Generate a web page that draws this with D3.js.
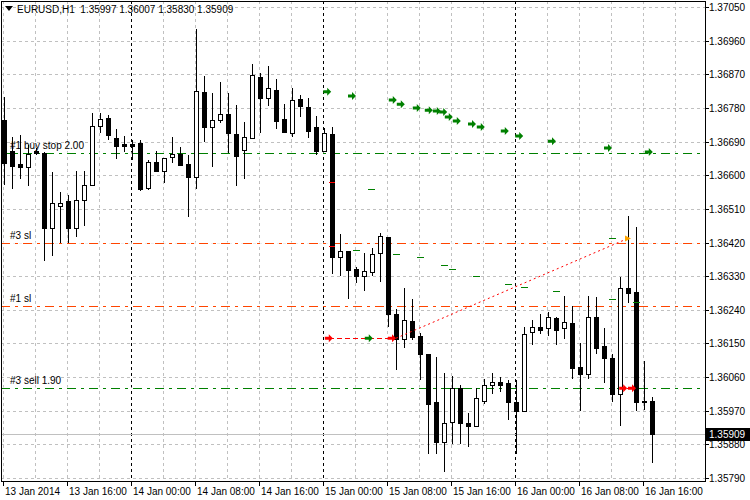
<!DOCTYPE html>
<html><head><meta charset="utf-8">
<script src="https://cdn.jsdelivr.net/npm/d3@7"></script>
<style>body{margin:0;background:#fff}svg{display:block}text{font-family:"Liberation Sans",Arial,sans-serif}line{shape-rendering:crispEdges}</style>
</head><body><svg id="c" width="750" height="500"></svg>
<script>
// prices x 1e5
const opens=[136747,136664,136630,136622,136664,136659,136458,136517,136530,136458,136533,136573,136731,136753,136699,136683,136683,136686,136565,136635,136611,136648,136656,136630,136595,136823,136729,136748,136764,136710,136667,136699,136863,136807,136828,136750,136713,136804,136782,136729,136664,136710,136380,136397,136348,136330,136340,136391,136434,136228,136161,136209,136169,136123,135992,135885,135941,136032,135936,135930,135997,136040,136048,136043,135992,135968,136180,136193,136190,136217,136190,136204,136086,136067,136222,136142,136110,136016,136297,136287,135997,135997];
const highs=[136809,136702,136707,136680,136672,136662,136608,136555,136547,136611,136611,136766,136766,136761,136723,136705,136694,136694,136640,136664,136646,136702,136675,136654,136991,136865,136820,136849,136820,136788,136742,136898,136873,136892,136857,136790,136833,136815,136807,136758,136726,136729,136442,136397,136354,136391,136405,136445,136434,136241,136297,136268,136177,136123,136113,136070,136064,136038,135965,136032,136056,136070,136059,136051,136051,136193,136214,136228,136233,136222,136276,136249,136150,136276,136273,136190,136123,136327,136490,136461,136102,136007];
const lows=[136573,136563,136589,136571,136654,136370,136383,136418,136418,136434,136463,136573,136713,136694,136643,136662,136640,136557,136560,136608,136579,136632,136627,136488,136563,136689,136622,136740,136659,136571,136589,136697,136713,136785,136723,136713,136702,136756,136699,136654,136664,136335,136330,136268,136311,136289,136330,136313,136193,136080,136139,136158,136051,135853,135855,135807,135882,135882,135874,135930,135987,136016,136021,135946,135853,135968,136145,136174,136171,136145,136161,136056,135968,136056,136123,136043,135992,135930,136257,135968,135973,135830];
const closes=[136632,136624,136622,136656,136659,136458,136525,136525,136458,136533,136573,136731,136750,136707,136678,136678,136678,136563,136635,136611,136646,136656,136627,136595,136825,136729,136748,136764,136713,136651,136702,136868,136807,136833,136745,136715,136801,136785,136718,136664,136713,136380,136397,136346,136330,136343,136388,136437,136230,136161,136212,136166,136123,135987,135885,135938,136032,135936,135928,136003,136040,136048,136040,135992,135968,136174,136193,136185,136220,136185,136206,136083,136067,136222,136139,136110,136016,136297,136284,135992,135995,135909];
const priceTicks=[1.37050,1.36960,1.36870,1.36780,1.36690,1.36600,1.36510,1.36420,1.36330,1.36240,1.36150,1.36060,1.35970,1.35880,1.35790];
const timeLabels=["13 Jan 2014","13 Jan 16:00","14 Jan 00:00","14 Jan 08:00","14 Jan 16:00","15 Jan 00:00","15 Jan 08:00","15 Jan 16:00","16 Jan 00:00","16 Jan 08:00","16 Jan 16:00"];
const daySeparators=[16,40,64];
const orderNames=["#1 buy stop 2.00","#3 sl","#1 sl","#3 sell 1.90"];
const orderPrices=[1.36660,1.36420,1.36250,1.36030];
const orderColors=["#008000","#ff4500","#ff4500","#008000"];
const stopBars=[40.4,43.5,48.6,49.6,51.6,53.1,54.1,54.9,55.6,56.6,58.5,59.6,62.6,64.4,68.5,75.5,80.6];
const stopPrices=[136823,136812,136801,136790,136780,136774,136772,136769,136756,136745,136737,136729,136718,136705,136691,136673,136662];
const dashBars=[45.9,44,49,52,55,56,59,63,65,69,76,76,79];
const dashPrices=[136563,136399,136388,136380,136359,136348,136330,136308,136300,136289,136268,136431,136260];
const header="EURUSD,H1  1.35997 1.36007 1.35830 1.35909";
const lastPrice=1.35909;

const svg=d3.select("#c");
const P=v=>v/1e5;
const x=d3.scaleLinear().domain([0,81]).range([4,652]);
const y=d3.scaleLinear().domain([1.35790,1.37050]).range([478,7]);
const L=1,R=705,T=1,B=481;
const Y=p=>Math.round(y(p));
const arrow="M-4,-1.5H0V-4L4,0L0,4V1.5H-4Z";

const g=svg.append("g");
priceTicks.forEach(p=>g.append("line").attr("x1",L).attr("x2",R).attr("y1",Y(p)).attr("y2",Y(p)).attr("stroke","#c0c0c0").attr("stroke-dasharray","3,3"));
for(let k=0;k<=84;k+=4){ if(daySeparators.includes(k))continue; const xx=Math.round(x(k)-1); if(xx>R)break;
 g.append("line").attr("x1",xx).attr("x2",xx).attr("y1",T).attr("y2",B).attr("stroke","#c0c0c0").attr("stroke-dasharray","3,3");}
daySeparators.forEach(k=>{const xx=Math.round(x(k)-1);g.append("line").attr("x1",xx).attr("x2",xx).attr("y1",T).attr("y2",B).attr("stroke","#000").attr("stroke-dasharray","3,3");});

g.append("line").attr("x1",L).attr("x2",R).attr("y1",Y(lastPrice)).attr("y2",Y(lastPrice)).attr("stroke","#c0c0c0");

const og=svg.append("g");
orderPrices.forEach((p,i)=>{const yy=Y(p);
 og.append("rect").attr("x",L).attr("y",yy-0.5).attr("width",R-L).attr("height",1.2).attr("fill","#fff");
 og.append("path").attr("d",`M${L},${yy+0.5}H${R}`).attr("fill","none").attr("stroke",orderColors[i]).attr("stroke-width",1.2).attr("stroke-dasharray","9,5,3,5");
 og.append("text").attr("x",10).attr("y",yy-4).attr("font-size",10).attr("fill","#000").text(orderNames[i]);});

const cg=svg.append("g");
opens.forEach((o,k)=>{const c=closes[k];const h=Math.max(highs[k],o,c),l=Math.min(lows[k],o,c);
 const xx=Math.round(x(k))+.5;
 cg.append("line").attr("x1",xx).attr("x2",xx).attr("y1",y(P(h))).attr("y2",y(P(l))).attr("stroke","#000");
 const top=Math.round(y(P(Math.max(o,c))))+.5,bot=Math.round(y(P(Math.min(o,c))))+.5;
 const up=c>=o;
 cg.append("rect").attr("x",xx-2).attr("y",top).attr("width",4).attr("height",Math.max(bot-top,1)).attr("fill",up?"#fff":"#000").attr("stroke","#000");
});

[136581,136410].forEach(p=>cg.append("line").attr("x1",x(41)-3).attr("x2",x(41)+3).attr("y1",Y(P(p))).attr("y2",Y(P(p))).attr("stroke","#ff0000"));

stopBars.forEach((b,i)=>svg.append("path").attr("d",arrow).attr("transform",`translate(${x(b)},${y(P(stopPrices[i]))})`).attr("fill","#008000"));
dashBars.forEach((b,i)=>svg.append("line").attr("x1",x(b)-3.5).attr("x2",x(b)+3.5).attr("y1",Y(P(dashPrices[i]))).attr("y2",Y(P(dashPrices[i]))).attr("stroke","#008000"));

const tp=1.36164;
svg.append("line").attr("x1",x(40.6)).attr("x2",x(48.5)).attr("y1",Y(tp)).attr("y2",Y(tp)).attr("stroke","#ff0000").attr("stroke-dasharray","5,3");
svg.append("path").attr("d",`M${x(49)},${y(tp)}L${x(78)},${y(1.36431)}`).attr("stroke","#ff0000").attr("stroke-dasharray","2,3").attr("fill","none");
svg.append("line").attr("x1",x(77.4)).attr("x2",x(78.5)).attr("y1",Y(1.36030)).attr("y2",Y(1.36030)).attr("stroke","#ff0000").attr("stroke-dasharray","2,2");
[[40.6,tp,"#ff0000"],[45.6,tp,"#008000"],[48.5,tp,"#ff0000"],[77.4,1.36030,"#ff0000"],[78.5,1.36030,"#ff0000"]].forEach(d=>svg.append("path").attr("d",arrow).attr("transform",`translate(${x(d[0])},${y(d[1])})`).attr("fill",d[2]));
svg.append("path").attr("d","M-3,-3L3,0L-3,3Z").attr("transform",`translate(${x(78)},${y(1.36431)})`).attr("fill","#ffa500");

svg.append("rect").attr("x",L+.5).attr("y",T+.5).attr("width",R-L).attr("height",B-T).attr("fill","none").attr("stroke","#000");

priceTicks.forEach(p=>{const yy=Y(p);
 svg.append("line").attr("x1",R).attr("x2",R+4).attr("y1",yy).attr("y2",yy).attr("stroke","#000");
 svg.append("text").attr("x",709).attr("y",yy+4).attr("font-size",10).text(p.toFixed(5));});
svg.append("rect").attr("x",706).attr("y",Y(lastPrice)-6).attr("width",44).attr("height",13).attr("fill","#000");
svg.append("text").attr("x",709).attr("y",Y(lastPrice)+4).attr("font-size",10).attr("fill","#fff").text(lastPrice.toFixed(5));

timeLabels.forEach((t,i)=>{const xx=Math.round(x(i*8))-1;
 svg.append("line").attr("x1",xx).attr("x2",xx).attr("y1",B).attr("y2",B+5).attr("stroke","#000");
 svg.append("text").attr("x",xx+2).attr("y",495).attr("font-size",10).text(t);});

svg.append("path").attr("d","M5,6L13,6L9,11Z").attr("fill","#000");
svg.append("text").attr("x",17).attr("y",13).attr("font-size",10).attr("xml:space","preserve").text(header);
</script></body></html>
